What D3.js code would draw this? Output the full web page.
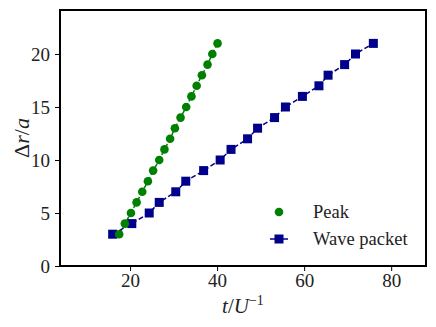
<!DOCTYPE html>
<html>
<head>
<meta charset="utf-8">
<script src="https://cdn.jsdelivr.net/npm/d3@7"></script>
<style>
  body { margin: 0; background: #fff; }
</style>
</head>
<body>
<svg id="chart" width="436" height="327"></svg>
<script>
// data
const peakT = [17.5, 18.8, 20.2, 21.5, 22.8, 24.1, 25.3, 26.7, 27.9, 29.2, 30.3, 31.6, 32.9, 34.1, 35.3, 36.5, 37.8, 38.9, 40.1];
const peakR = [3, 4, 5, 6, 7, 8, 9, 10, 11, 12, 13, 14, 15, 16, 17, 18, 19, 20, 21];
const waveT = [16.0, 20.4, 24.4, 26.7, 30.5, 32.8, 36.9, 40.7, 43.2, 47.0, 49.3, 53.2, 55.7, 59.6, 63.4, 65.5, 69.3, 71.8, 75.9];
const waveR = [3, 4, 5, 6, 7, 8, 9, 10, 11, 12, 13, 14, 15, 16, 17, 18, 19, 20, 21];
const xTicks = [20, 40, 60, 80];
const yTicks = [0, 5, 10, 15, 20];

const svg = d3.select("#chart");
const mLeft = 60, mRight = 426, mTop = 10, mBottom = 266;
const font = "Liberation Serif";

const x = d3.scaleLinear().domain([3.9, 88]).range([mLeft, mRight]);
const y = d3.scaleLinear().domain([0, 24.15]).range([mBottom, mTop]);

const peak = peakT.map((t, i) => ({t: t, r: peakR[i]}));
const wave = waveT.map((t, i) => ({t: t, r: waveR[i]}));

// axes
const xAxis = svg.append("g").attr("transform", `translate(0,${mBottom})`)
  .call(d3.axisBottom(x).tickValues(xTicks).tickSize(5).tickPadding(3));
const yAxis = svg.append("g").attr("transform", `translate(${mLeft},0)`)
  .call(d3.axisLeft(y).tickValues(yTicks).tickSize(5).tickPadding(5));
[xAxis, yAxis].forEach(a => {
  a.attr("font-family", font);
  a.select(".domain").remove();
  a.selectAll("line").attr("stroke", "#000").attr("stroke-width", 1);
  a.selectAll("text").attr("font-size", 19).attr("fill", "#222");
});

// lines
const line = d3.line().x(d => x(d.t)).y(d => y(d.r));
svg.append("path").datum(peak).attr("d", line)
  .attr("fill", "none").attr("stroke", "green").attr("stroke-width", 1.5)
  .attr("stroke-dasharray", "5,2.5");
svg.append("path").datum(wave).attr("d", line)
  .attr("fill", "none").attr("stroke", "darkblue").attr("stroke-width", 1.5)
  .attr("stroke-dasharray", "5,2.5");

// markers
svg.selectAll(".sq").data(wave).enter().append("rect")
  .attr("x", d => x(d.t) - 4.5).attr("y", d => y(d.r) - 4.5)
  .attr("width", 9).attr("height", 9).attr("fill", "darkblue");
svg.selectAll(".pk").data(peak).enter().append("circle")
  .attr("cx", d => x(d.t)).attr("cy", d => y(d.r)).attr("r", 4.3)
  .attr("fill", "green");

// frame
svg.append("rect").attr("x", mLeft).attr("y", mTop)
  .attr("width", mRight - mLeft).attr("height", mBottom - mTop)
  .attr("fill", "none").attr("stroke", "#000").attr("stroke-width", 2);

// legend
const lg = svg.append("g").attr("font-family", font);
lg.append("circle").attr("cx", 279).attr("cy", 212).attr("r", 4.3).attr("fill", "green");
lg.append("text").attr("x", 313).attr("y", 218).attr("font-size", 18.5).attr("fill", "#222").text("Peak");
lg.append("line").attr("x1", 270).attr("x2", 288).attr("y1", 239).attr("y2", 239)
  .attr("stroke", "darkblue").attr("stroke-width", 1.5);
lg.append("rect").attr("x", 274.5).attr("y", 234.5).attr("width", 9).attr("height", 9).attr("fill", "darkblue");
lg.append("text").attr("x", 313).attr("y", 245).attr("font-size", 18.5).attr("fill", "#222").text("Wave packet");

// axis labels
const xl = svg.append("text").attr("x", 243).attr("y", 313).attr("text-anchor", "middle")
  .attr("font-family", font).attr("font-size", 21).attr("fill", "#222");
xl.append("tspan").attr("font-style", "italic").text("t");
xl.append("tspan").text("/");
xl.append("tspan").attr("font-style", "italic").text("U");
xl.append("tspan").attr("font-size", 14).attr("dy", -8).text("−1");

const yl = svg.append("text").attr("transform", "translate(29,138) rotate(-90)")
  .attr("font-family", font).attr("text-anchor", "middle").attr("font-size", 22).attr("fill", "#222");
yl.append("tspan").text("Δ");
yl.append("tspan").attr("font-style", "italic").text("r");
yl.append("tspan").text("/");
yl.append("tspan").attr("font-style", "italic").text("a");
</script>
</body>
</html>
